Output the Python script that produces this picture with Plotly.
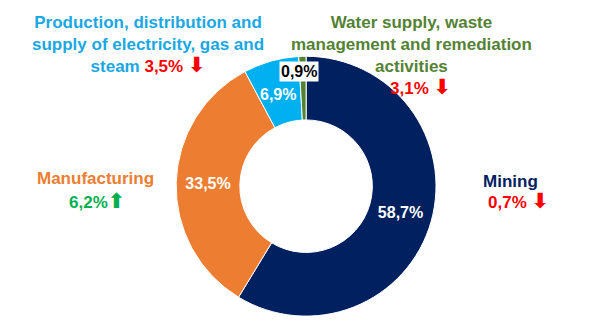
import plotly.graph_objects as go

categories = ["Mining", "Manufacturing",
              "Production, distribution and supply of electricity, gas and steam",
              "Water supply, waste management and remediation activities"]
shares = [58.7, 33.5, 6.9, 0.9]
share_labels = ["58,7%", "33,5%", "6,9%", "0,9%"]
changes = ["0,7%", "6,2%", "3,5%", "3,1%"]
colors = ["#002060", "#ED7D31", "#00B0F0", "#548235"]

FONT = "Liberation Sans, Arial, DejaVu Sans"
RED = "#FF0000"
GREEN = "#00B050"

inside_text = [share_labels[0], share_labels[1], "", ""]

fig = go.Figure(go.Pie(
    labels=categories, values=shares, sort=False, direction="clockwise", rotation=0,
    hole=0.51, marker=dict(colors=colors, line=dict(color="white", width=1)),
    text=inside_text, textinfo="text", textposition="inside",
    insidetextorientation="horizontal",
    textfont=dict(family=FONT, size=16, color="white", weight="bold"),
    domain=dict(x=[0.294, 0.728], y=[0.045, 0.83]),
    showlegend=False, hoverinfo="label+value",
))

W, H = 599, 331

def ann(xp, yp, text, color, size=17, bg=None):
    d = dict(x=xp / W, y=1 - yp / H, xref="paper", yref="paper",
             xanchor="center", yanchor="middle",
             text=text, showarrow=False,
             font=dict(family=FONT, size=size, color=color, weight="bold"))
    if bg:
        d["bgcolor"] = bg
        d["borderpad"] = 1
    fig.add_annotation(**d)

down = "<span style='color:%s;font-size:21px'>⬇</span>" % RED
up = "<span style='color:%s;font-size:21px'>⬆</span>" % GREEN

ann(148, 44, "Production, distribution and<br>supply of electricity, gas and<br>steam <span style='color:%s'>%s</span> %s" % (RED, changes[2], down), "#1AA7E4")
ann(411, 44, "Water supply, waste<br>management and remediation<br>activities", "#548235")
ann(420, 87, "%s %s" % (changes[3], down), RED)
ann(95, 178, categories[1], "#ED7D31")
ann(97, 200, "%s%s" % (changes[1], up), GREEN)
ann(510, 181, categories[0], "#002060")
ann(518, 200, "%s %s" % (changes[0], down), RED)
ann(278, 95, share_labels[2], "white", size=16)
ann(299, 72, share_labels[3], "black", size=16, bg="white")

fig.update_layout(width=W, height=H, margin=dict(l=0, r=0, t=0, b=0),
                  paper_bgcolor="white", plot_bgcolor="white")
fig.write_html("out.html")
